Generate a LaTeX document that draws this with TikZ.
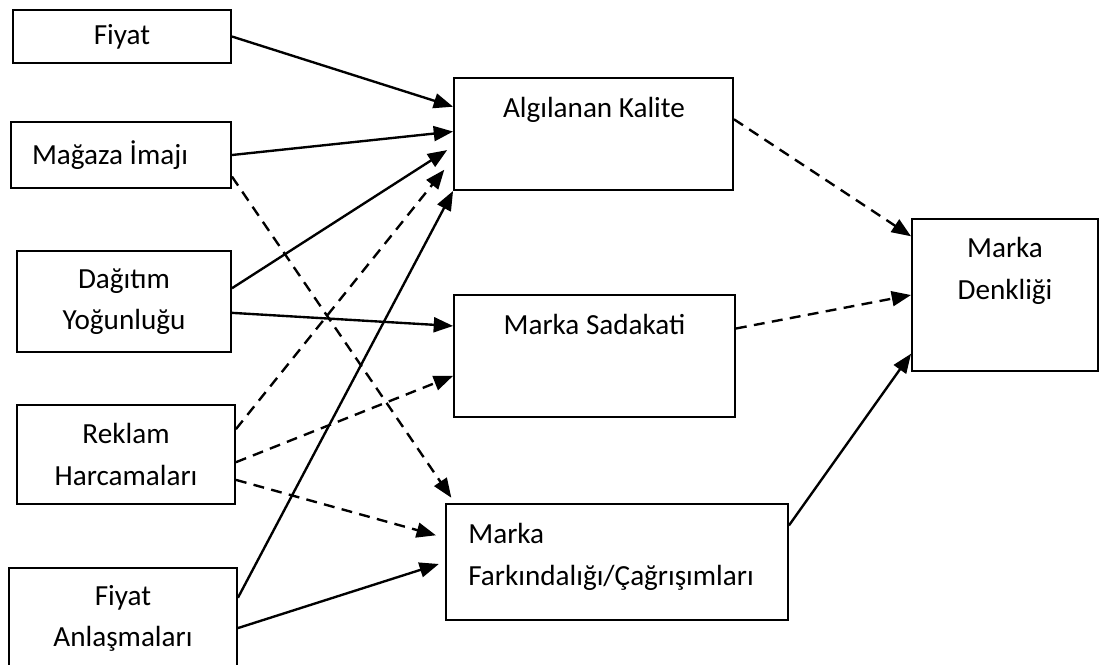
\documentclass[tikz,border=0pt]{standalone}
\usepackage{fontspec}
\setmainfont{Carlito}
\usetikzlibrary{arrows.meta}

\begin{document}
\begin{tikzpicture}[x=0.02cm,y=-0.02cm,
    every node/.style={font=\fontsize{16.6}{23.4}\selectfont},
    box/.style={rectangle,draw,line width=1.1pt,align=center},
    txt/.style={anchor=base,inner sep=0pt,align=center},
    arr/.style={-{Triangle[length=11pt,width=8.5pt]},line width=1.35pt},
    dsh/.style={arr,dash pattern=on 6.2pt off 4.2pt}]
    \useasboundingbox (0,0) rectangle (1099,664);
    % left column
    \node[box,minimum width=4.36cm,minimum height=1.06cm] (fiyat) at (122,36.5) {Fiyat};
    \node[box,minimum width=4.40cm,minimum height=1.32cm] (magaza) at (121,155) {Mağaza İmajı\hspace{0.44cm}};
    \node[box,minimum width=4.28cm,minimum height=2.02cm] (dagitim) at (124,301.5) {Dağıtım\\Yoğunluğu};
    \node[box,minimum width=4.36cm,minimum height=1.98cm] (reklam) at (126,454.5) {Reklam\\Harcamaları};
    \node[box,minimum width=4.56cm,minimum height=2.00cm] (anlasma) at (123,618) {Fiyat\\Anlaşmaları};
    % middle column
    \node[box,minimum width=5.58cm,minimum height=2.24cm] (kalite) at (593.5,134) {};
    \node[txt] (kalitet) at (594,117) {Algılanan Kalite};
    \node[box,minimum width=5.62cm,minimum height=2.44cm] (sadakat) at (594.5,356) {};
    \node[txt] (sadakatt) at (594.5,334) {Marka Sadakati};
    \node[box,minimum width=6.84cm,minimum height=2.32cm] (farkinda) at (617,562) {};
    \node[txt,anchor=base west,align=left] (farkindat) at (468,585) {Marka\\Farkındalığı/Çağrışımları};
    % right
    \node[box,minimum width=3.72cm,minimum height=3.04cm] (denklik) at (1005,295) {};
    \node[txt] (denklikt) at (1005,299) {Marka\\Denkliği};
    % arrows
    \draw[arr] (fiyat.east) -- (kalite.169);
    \draw[arr] (magaza.east) -- (kalite.179);
    \draw[arr,shorten >=0.14cm] (dagitim.7) -- (kalite.185);
    \draw[dsh,shorten >=0.28cm] (reklam.13) -- (kalite.190);
    \draw[arr] (anlasma.10) -- (kalite.south west);
    \draw[dsh,shorten >=0.13cm] (magaza.-11) -- (farkinda.160);
    \draw[arr] (dagitim.-6) -- (sadakat.168);
    \draw[dsh] (reklam.-4) -- (sadakat.188);
    \draw[dsh,shorten >=0.19cm] (reklam.-13) -- (farkinda.172);
    \draw[arr,shorten >=0.13cm] (anlasma.-5) -- (farkinda.west);
    \draw[dsh] (kalite.6) -- (denklik.148);
    \draw[dsh] (sadakat.11) -- (denklik.west);
    \draw[arr] (farkinda.12) -- (denklik.212);
\end{tikzpicture}
\end{document}
